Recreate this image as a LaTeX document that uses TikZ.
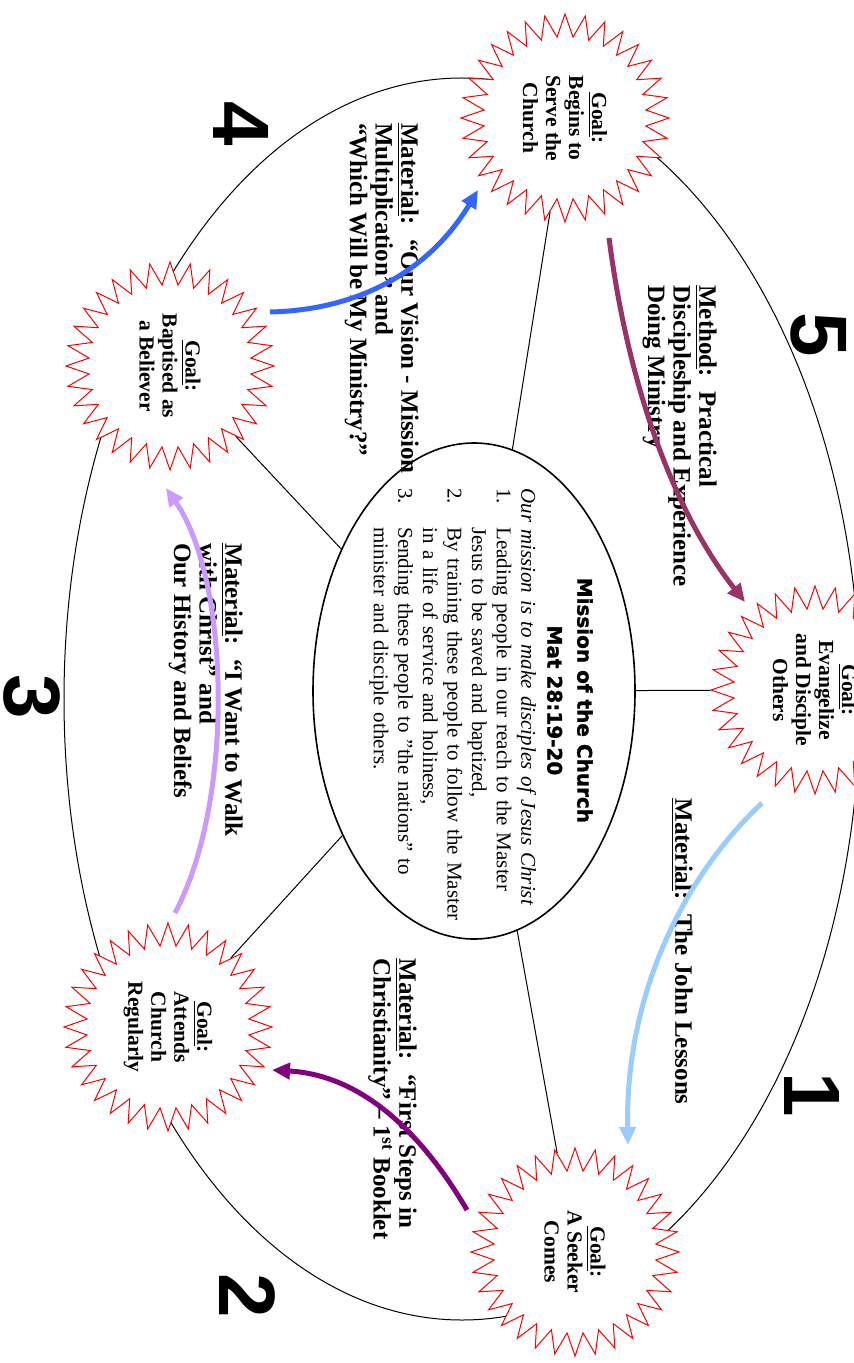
\documentclass[tikz,border=0pt]{standalone}
\usepackage{fontspec}
\setmainfont{Liberation Serif}
\newfontfamily\headfont{DejaVu Sans}[BoldFeatures={FakeBold=1.5}]
\newfontfamily\numfont{Liberation Sans}
\usetikzlibrary{shapes.geometric,arrows.meta,calc,backgrounds}

\definecolor{flowblue}{HTML}{3366FF}
\definecolor{flowplum}{HTML}{993366}
\definecolor{flowsky}{HTML}{99CCFF}
\definecolor{flowpurple}{HTML}{800080}
\definecolor{flowlilac}{HTML}{CC99FF}

\tikzset{
	goalstar/.style={draw=red, fill=white, line width=0.5pt, star, star points=32, star point ratio=1.28, minimum size=104pt, inner sep=0pt, rotate=-90, align=center, font=\fontsize{10.75}{11.5}\selectfont\bfseries},
	material/.style={rotate=-90, anchor=north west, inner sep=0pt, align=left, font=\fontsize{12.5}{12.8}\selectfont\bfseries},
	missiontext/.style={rotate=-90, anchor=north west, inner sep=0pt, text width=240pt, align=left, font=\fontsize{10.5}{12.3}\selectfont},
	stepno/.style={rotate=-90, inner sep=0pt, font=\numfont\bfseries\fontsize{40}{40}\selectfont},
	spoke/.style={black, line width=0.5pt},
	flow/.style={line width=2.5pt, -{Triangle[length=9pt,width=8pt]}}
}

\begin{document}
\begin{tikzpicture}[x=0.5pt, y=-0.5pt]
		%%%%% START %%%%%
		\useasboundingbox (0,0) rectangle (854,1363);
		\clip (0,0) rectangle (854,1363);
		
		% goals
		\node[goalstar] (serve) at (565,118) {\underline{Goal}:\\ Begins to\\ Serve the\\ Church};
		\node[goalstar] (evangelize) at (815,690) {\underline{Goal}:\\ Evangelize\\ and Disciple\\ Others};
		\node[goalstar] (seeker) at (575,1252) {\underline{Goal}:\\ A Seeker\\ Comes};
		\node[goalstar] (attends) at (168,1027) {\underline{Goal}:\\ Attends\\ Church\\ Regularly};
		\node[goalstar] (baptised) at (170,366) {\underline{Goal}:\\ Baptised as\\ a Believer};
		
		% mission
		\node[draw, ellipse, line width=0.8pt, fill=white, minimum width=248pt, minimum height=161pt, rotate=-90] (mission) at (474,691) {};
		\node[missiontext] (mtext) at (593,488) {%
			{\headfont\bfseries\fontsize{10}{15}\selectfont \makebox[212pt]{Mission of the Church}\\ \makebox[212pt]{Mat 28:19-20}\par}
			\vspace{0.7pt}
			\textit{Our mission is to make disciples of Jesus Christ}\\
			\makebox[19.5pt][l]{1.}Leading people in our reach to the Master\\
			\hspace*{19.5pt}Jesus to be saved and baptized,\\
			\makebox[19.5pt][l]{2.}By training these people to follow the Master\\
			\hspace*{19.5pt}in a life of service and holiness,\\
			\makebox[19.5pt][l]{3.}Sending these people to "the nations" to\\
			\hspace*{19.5pt}minister and disciple others.};
		
		\begin{scope}[on background layer]
			\draw[line width=0.5pt] (462,699) ellipse [x radius=398, y radius=621];
			\foreach \g in {serve,evangelize,seeker,attends,baptised}
				\draw[spoke] (mission) -- (\g);
		\end{scope}
		
		% materials and method
		\node[material] (vision) at (419,123) {\underline{Material}:~ “Our Vision - Mission\\ Multiplication” and\\ “Which Will be My Ministry?”};
		\node[material] (method) at (717,285) {\underline{Method}:~ Practical\\ Discipleship and Experience\\ Doing Ministry};
		\node[material] (john) at (693,798) {\underline{Material}:~ The John Lessons};
		\node[material] (firststeps) at (417,958) {\underline{Material}:~ “First Steps in\\ Christianity” – 1\textsuperscript{st} Booklet};
		\node[material] (walk) at (243,543) {\underline{Material}:~ “I Want to Walk\\ with Christ” and\\ Our History and Beliefs};
		
		% steps
		\node[stepno] (n1) at (812,1095) {1};
		\node[stepno] (n2) at (247,1296) {2};
		\node[stepno] (n3) at (32,697) {3};
		\node[stepno] (n4) at (241,124) {4};
		\node[stepno] (n5) at (819,335) {5};
		
		% flow between goals
		\draw[flow, flowblue] ($(baptised)+(100,-54)$) .. controls +(90,-2) and +(-48,80) .. ($(serve)+(-87,72)$);
		\draw[flow, flowplum] ($(serve)+(44,120)$) .. controls +(21,162) and +(-65,-82) .. ($(evangelize)+(-70,-88)$);
		\draw[flow, flowsky] ($(evangelize)+(-53,113)$) .. controls +(-82,77) and +(-3,-145) .. ($(seeker)+(53,-107)$);
		\draw[flow, flowpurple] ($(seeker)+(-108,-42)$) .. controls +(-47,-80) and +(88,5) .. ($(attends)+(104,43)$);
		\draw[flow, flowlilac] ($(attends)+(7,-114)$) .. controls +(60,-113) and +(64,92) .. ($(baptised)+(-4,122)$);
		
		%%%%% END %%%%%
\end{tikzpicture}
\end{document}
